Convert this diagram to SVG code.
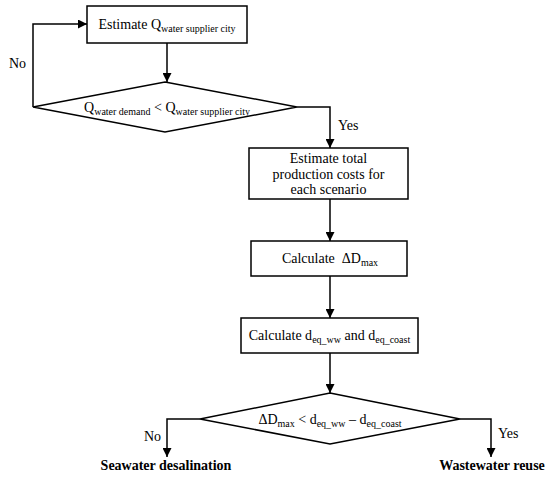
<svg xmlns="http://www.w3.org/2000/svg" width="550" height="477" viewBox="0 0 550 477">
<defs>
<marker id="ah" viewBox="0 0 10 10" refX="10" refY="5" markerWidth="9" markerHeight="9" markerUnits="userSpaceOnUse" orient="auto">
<path d="M0,0 L10,5 L0,10 z" fill="#000"/>
</marker>
<style>
.box{fill:#fff;stroke:#000;stroke-width:1.5}
.ln{fill:none;stroke:#000;stroke-width:1.5;marker-end:url(#ah)}
text{font-family:"Liberation Serif","Times New Roman",serif;font-size:14px;fill:#000}
.c{text-anchor:middle}
.sub{font-size:10px}
.b{font-weight:bold}
</style>
</defs>
<rect width="550" height="477" fill="#fff"/>
<g id="connectors">
<path class="ln" d="M167,43 V82"/>
<path class="ln" d="M33,107 V24 H87"/>
<path class="ln" d="M297,107 H330 V148"/>
<path class="ln" d="M330,199 V241"/>
<path class="ln" d="M330,276 V318"/>
<path class="ln" d="M330,353 V393"/>
<path class="ln" d="M200,419 H167 V457"/>
<path class="ln" d="M460,419 H491 V457"/>
<text x="9" y="68">No</text>
<text x="338" y="130">Yes</text>
<text x="144" y="441">No</text>
<text x="498" y="438">Yes</text>
</g>
<g id="n1">
<rect class="box" x="87" y="6" width="160" height="37"/>
<text class="c" x="167" y="29">Estimate Q<tspan class="sub" dy="3">water supplier city</tspan></text>
</g>
<g id="n2">
<polygon class="box" points="165,82 297,107 165,132 33,107"/>
<text class="c" x="167" y="112">Q<tspan class="sub" dy="3">water demand</tspan><tspan dy="-3"> &lt; Q</tspan><tspan class="sub" dy="3">water supplier city</tspan></text>
</g>
<g id="n3">
<rect class="box" x="249" y="148" width="159" height="51"/>
<text class="c" x="328.5" y="163">Estimate total</text>
<text class="c" x="328.5" y="179">production costs for</text>
<text class="c" x="328.5" y="194">each scenario</text>
</g>
<g id="n4">
<rect class="box" x="251" y="241" width="156" height="35"/>
<text class="c" x="330" y="263">Calculate&#160; ΔD<tspan class="sub" dy="3">max</tspan></text>
</g>
<g id="n5">
<rect class="box" x="241" y="318" width="177" height="35"/>
<text class="c" x="329.5" y="340">Calculate d<tspan class="sub" dy="3">eq_ww</tspan><tspan dy="-3"> and d</tspan><tspan class="sub" dy="3">eq_coast</tspan></text>
</g>
<g id="n6">
<polygon class="box" points="330,393 460,419 330,444 200,419"/>
<text class="c" x="330" y="424">ΔD<tspan class="sub" dy="3">max</tspan><tspan dy="-3"> &lt; d</tspan><tspan class="sub" dy="3">eq_ww</tspan><tspan dy="-3"> – d</tspan><tspan class="sub" dy="3">eq_coast</tspan></text>
</g>
<g id="n7">
<text class="c b" x="166" y="470">Seawater desalination</text>
</g>
<g id="n8">
<text class="c b" x="492" y="470">Wastewater reuse</text>
</g>
</svg>
